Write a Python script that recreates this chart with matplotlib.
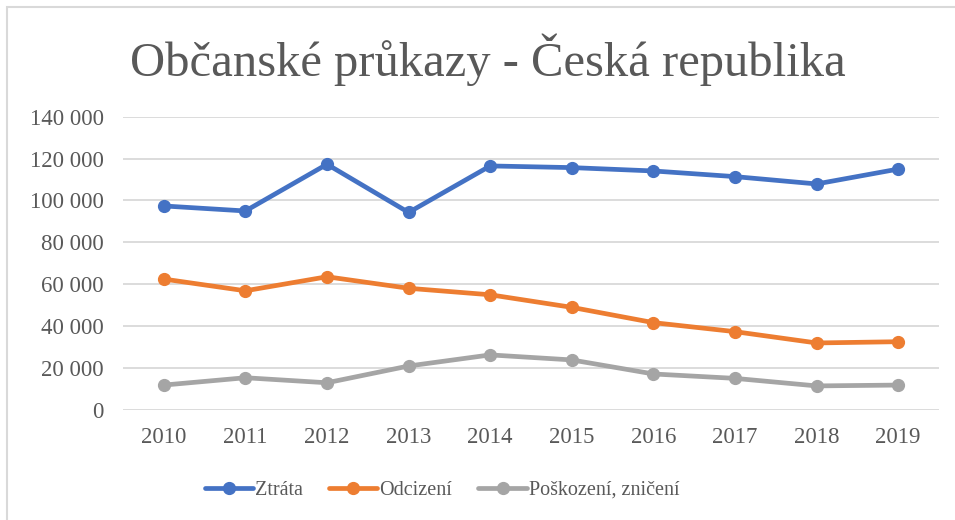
import matplotlib
matplotlib.use("Agg")
import matplotlib.pyplot as plt
from matplotlib.patches import Rectangle
from matplotlib.ticker import FuncFormatter

years = ["2010", "2011", "2012", "2013", "2014", "2015", "2016", "2017", "2018", "2019"]
ztrata = [97400, 95000, 117300, 94300, 116500, 115700, 114100, 111400, 107900, 115000]
odcizeni = [62500, 56900, 63600, 58100, 55000, 49000, 41700, 37400, 32000, 32600]
poskozeni = [11900, 15400, 13000, 21000, 26300, 23900, 17200, 15100, 11500, 11900]
series_names = ["Ztráta", "Odcizení", "Poškození, zničení"]
title = "Občanské průkazy - Česká republika"

colors = ["#4472C4", "#ED7D31", "#A5A5A5"]
text_color = "#595959"
plt.rcParams['font.family'] = ['Liberation Serif', 'DejaVu Serif']

W, H = 955, 520
fig = plt.figure(figsize=(W / 100, H / 100), dpi=100)
fig.patches.append(Rectangle((7 / W, -0.1), 1.2, 1 - 7 / H + 0.1, transform=fig.transFigure,
                             fill=False, edgecolor="#D9D9D9", linewidth=1.5))

ax = fig.add_axes([123 / W, 1 - 410 / H, (939 - 123) / W, (410 - 116.7) / H])
x = list(range(len(years)))
for vals, c, name in zip([ztrata, odcizeni, poskozeni], colors, series_names):
    ax.plot(x, vals, color=c, linewidth=3.4, marker="o", markersize=8.5,
            label=name, solid_capstyle="round", solid_joinstyle="round", zorder=3)

ax.set_xlim(-0.5, len(years) - 0.5)
ax.set_ylim(0, 140000)
ax.set_yticks(range(0, 140001, 20000))
ax.yaxis.set_major_formatter(FuncFormatter(lambda v, p: f"{int(v):,}".replace(",", " ")))
ax.set_xticks(x)
ax.set_xticklabels(years)
ax.grid(axis="y", color="#D9D9D9", linewidth=1.3)
ax.set_axisbelow(True)
for s in ax.spines.values():
    s.set_visible(False)
ax.tick_params(axis="both", length=0, labelsize=16.5, colors=text_color)
ax.tick_params(axis="y", pad=14)
ax.tick_params(axis="x", pad=12)

fig.text(488 / W, 1 - 60 / H, title, ha="center", va="center", fontsize=35, color=text_color)

leg = fig.legend(loc="center", bbox_to_anchor=(442 / W, 1 - 490 / H), ncol=3, frameon=False,
                 fontsize=14.5, handlelength=2.4, handletextpad=0.1, columnspacing=1.3)
for t in leg.get_texts():
    t.set_color(text_color)

fig.savefig("out.png", dpi=100, facecolor="white")
